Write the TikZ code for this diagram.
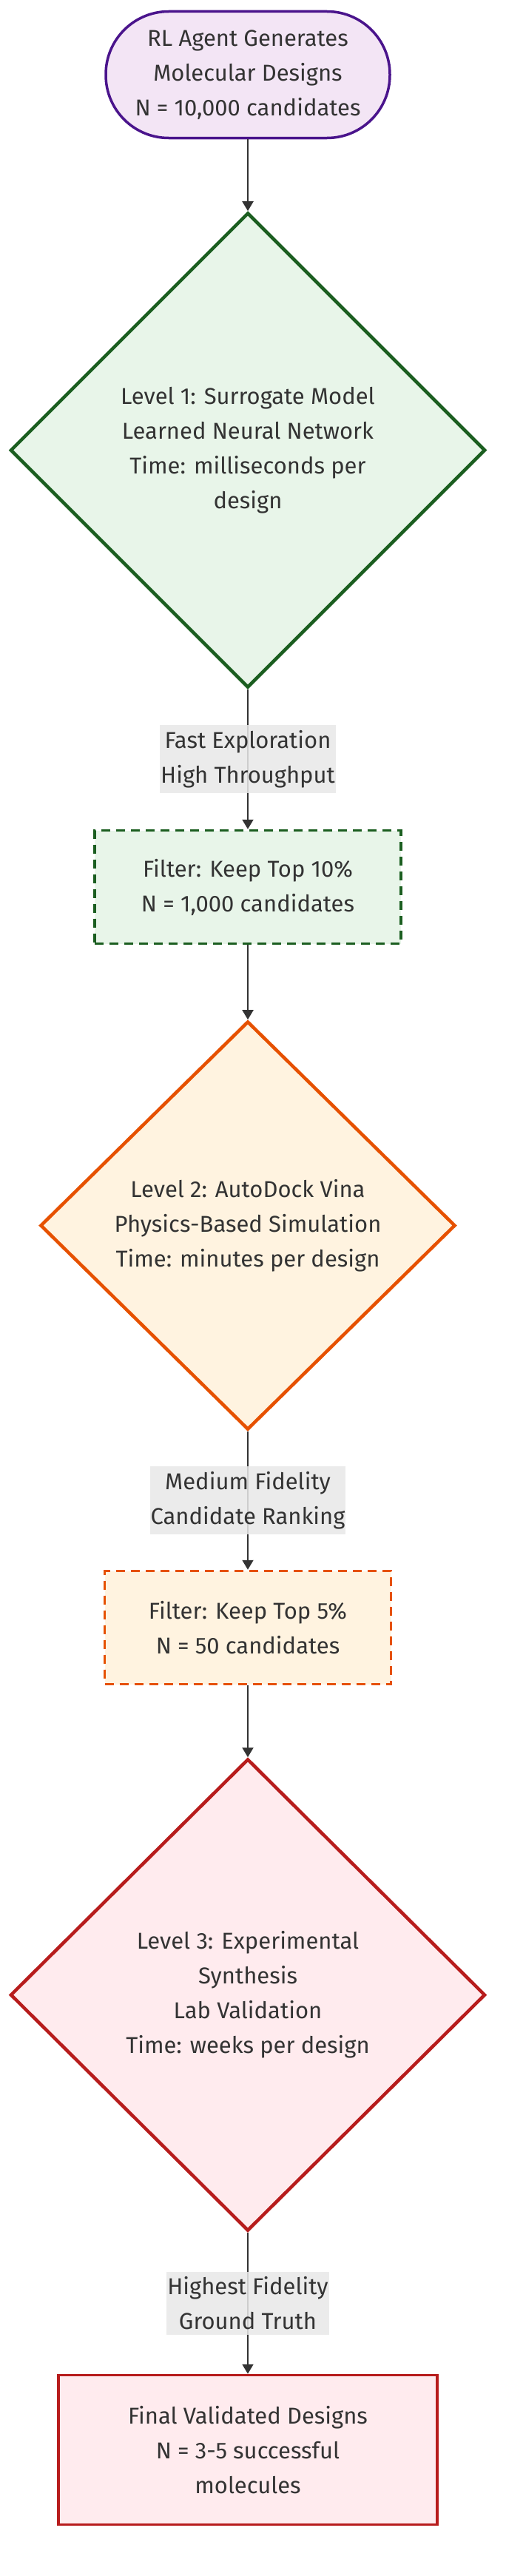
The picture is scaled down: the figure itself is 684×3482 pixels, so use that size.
\documentclass[tikz,border=0pt]{standalone}
\usepackage{fontspec}
\setmainfont{Fira Sans}
\usepackage{tikz}
\usetikzlibrary{positioning, shapes.geometric, arrows.meta}
\definecolor{agent-purple}{HTML}{F3E5F5}
\definecolor{agent-edge}{HTML}{4A148C}
\definecolor{lvl1-green}{HTML}{E8F5E9}
\definecolor{lvl1-edge}{HTML}{1B5E20}
\definecolor{lvl2-orange}{HTML}{FFF3E0}
\definecolor{lvl2-edge}{HTML}{E65100}
\definecolor{lvl3-red}{HTML}{FFEBEE}
\definecolor{lvl3-edge}{HTML}{B71C1C}
\definecolor{ink}{HTML}{333333}
\definecolor{label-gray}{HTML}{E8E8E8}

\begin{document}
\begin{tikzpicture}[x=1pt, y=-1pt]
				\tikzset{txt/.style={align=center, text=ink, font=\fontsize{31}{47}\selectfont}}
				\tikzset{stadium/.style={txt, rectangle, rounded corners=85pt, draw=agent-edge, fill=agent-purple, line width=3.5pt, minimum width=384pt, minimum height=171pt}}
				\tikzset{level/.style={txt, diamond, line width=4.5pt, inner sep=0pt}}
				\tikzset{filt/.style={txt, rectangle, line width=3.5pt, dash pattern=on 12pt off 8pt, minimum height=153pt}}
				\tikzset{lbl/.style={txt, fill=label-gray, fill opacity=.85, text opacity=1, inner xsep=1pt, inner ysep=7pt}}
				\tikzset{arr/.style={-{Triangle[length=13pt, width=15pt]}, line width=2pt, draw=ink}}

				\useasboundingbox (0,0) rectangle (684,3482);
				\node[stadium] at (335,101) (agent) {RL Agent Generates\\Molecular Designs\\N = 10,000 candidates};
				\node[level, draw=lvl1-edge, fill=lvl1-green, minimum width=642pt, minimum height=642pt, below=97pt of agent] (lvl1) {Level 1: Surrogate Model\\Learned Neural Network\\Time: milliseconds per\\design};
				\node[filt, draw=lvl1-edge, fill=lvl1-green, minimum width=414pt, below=189pt of lvl1] (filt1) {Filter: Keep Top 10\%\\N = 1,000 candidates};
				\node[level, draw=lvl2-edge, fill=lvl2-orange, minimum width=561pt, minimum height=552pt, below=101pt of filt1] (lvl2) {Level 2: AutoDock Vina\\Physics-Based Simulation\\Time: minutes per design};
				\node[filt, draw=lvl2-edge, fill=lvl2-orange, minimum width=387pt, below=187pt of lvl2] (filt2) {Filter: Keep Top 5\%\\N = 50 candidates};
				\node[level, draw=lvl3-edge, fill=lvl3-red, minimum width=642pt, minimum height=638pt, below=97pt of filt2] (lvl3) {Level 3: Experimental\\Synthesis\\Lab Validation\\Time: weeks per design};
				\node[txt, rectangle, draw=lvl3-edge, fill=lvl3-red, line width=3.5pt, minimum width=512pt, minimum height=202pt, below=191pt of lvl3] (final) {Final Validated Designs\\N = 3-5 successful\\molecules};

				\draw[arr] (agent) -- (lvl1);
				\draw[arr] (lvl1) -- node[lbl] {Fast Exploration\\High Throughput} (filt1);
				\draw[arr] (filt1) -- (lvl2);
				\draw[arr] (lvl2) -- node[lbl] {Medium Fidelity\\Candidate Ranking} (filt2);
				\draw[arr] (filt2) -- (lvl3);
				\draw[arr] (lvl3) -- node[lbl] {Highest Fidelity\\Ground Truth} (final);
			\end{tikzpicture}
\end{document}
